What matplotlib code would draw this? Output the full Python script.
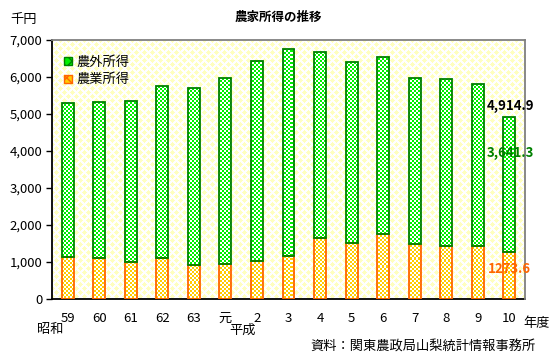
import numpy as np
import matplotlib
matplotlib.use("Agg")
import matplotlib.pyplot as plt
from matplotlib.colors import to_rgb
from matplotlib.patches import Patch

plt.rcParams['font.family'] = ['Noto Sans CJK JP', 'DejaVu Sans']

# --- data (千円) ---
years = ['59', '60', '61', '62', '63', '元', '2', '3', '4', '5', '6', '7', '8', '9', '10']
farm = [1127, 1108, 1000, 1108, 919, 955, 1027, 1162, 1649, 1514, 1757, 1495, 1441, 1441, 1273.6]
nonfarm = [4162, 4208, 4343, 4640, 4775, 5009, 5397, 5587, 5018, 4883, 4775, 4469, 4496, 4361, 3641.3]
yticks = [0, 1000, 2000, 3000, 4000, 5000, 6000, 7000]

W, H = 556, 360
AX_L, AX_B, AX_W, AX_H = 52, 40, 473, 259   # axes box in pixels (top-left origin)
fig = plt.figure(figsize=(W / 100, H / 100), dpi=100)
ax = fig.add_axes([AX_L / W, (H - AX_B - AX_H) / H, AX_W / W, AX_H / H])

x = np.arange(len(years))
xlim = (-0.5, len(years) - 0.5)
ylim = (0, 7000)
extent = (xlim[0], xlim[1], ylim[0], ylim[1])

green_fill, green_edge = '#00f000', '#008000'
orange_fill, orange_edge = '#ffcc00', '#ff6600'

# pixel textures (2px checker for bars, pale diamonds for background)
yy, xx = np.mgrid[0:AX_H, 0:AX_W]
checker = ((xx // 2 + yy // 2) % 2 == 0)[..., None]
white = np.ones(3)


def tex(col):
    return np.where(checker, np.array(to_rgb(col)), white)


u, v = (xx + yy) % 8, (xx - yy) % 8
du, dv = np.minimum(u, 8 - u), np.minimum(v, 8 - v)
diam = (np.maximum(du, dv) <= 2)[..., None]
bg_img = np.where(diam, np.array(to_rgb('#ffffbf')), white)
ax.imshow(bg_img, extent=extent, aspect='auto', interpolation='nearest', zorder=0)

b1 = ax.bar(x, farm, 0.38, color='none', edgecolor=orange_edge, lw=1.3, zorder=3)
b2 = ax.bar(x, nonfarm, 0.38, bottom=farm, color='none', edgecolor=green_edge, lw=1.3, zorder=3)
for bars, col in ((b1, orange_fill), (b2, green_fill)):
    img_arr = tex(col)
    for b in bars:
        im = ax.imshow(img_arr, extent=extent, aspect='auto', interpolation='nearest', zorder=2)
        im.set_clip_path(b)

ax.set_xlim(*xlim)
ax.set_ylim(*ylim)
ax.set_yticks(yticks)
ax.set_yticklabels([f'{v:,}' for v in yticks], fontsize=9.5)
ax.tick_params(axis='y', direction='out', length=4, width=1, pad=3)
ax.set_xticks(x)
ax.set_xticklabels(years, fontsize=9.5)
ax.tick_params(axis='x', length=0, pad=9)

for s in ['left', 'bottom']:
    ax.spines[s].set_color('black')
    ax.spines[s].set_linewidth(1.3)
for s in ['top', 'right']:
    ax.spines[s].set_color('#808080')
    ax.spines[s].set_linewidth(1.3)
    ax.spines[s].set_zorder(4)

# legend
h_non = Patch(facecolor=green_fill, edgecolor=green_edge, hatch='xxx', lw=1)
h_farm = Patch(facecolor=orange_fill, edgecolor=orange_edge, hatch='xxx', lw=1)
ax.legend([h_non, h_farm], ['農外所得', '農業所得'], loc='upper left',
          bbox_to_anchor=(0.0, 0.985), frameon=False, fontsize=9.5,
          handlelength=0.6, handleheight=0.6, handletextpad=0.35, labelspacing=0.35)

# annotations on last bar
total_last = farm[-1] + nonfarm[-1]
ax.text(14.05, total_last + 300, f'{total_last:,.1f}', ha='center', va='center',
        fontsize=9.5, fontweight='bold', color='black', zorder=5)
ax.text(14.05, 3950, f'{nonfarm[-1]:,.1f}', ha='center', va='center',
        fontsize=9.5, fontweight='bold', color='#008000', zorder=5)
ax.text(14.0, 820, f'{farm[-1]}', ha='center', va='center',
        fontsize=9.5, fontweight='bold', color='#ff6600', zorder=5)

# texts outside axes
fig.text(278 / W, 1 - 17 / H, '農家所得の推移', ha='center', va='center', fontsize=9, fontweight='bold')
fig.text(24 / W, 1 - 19 / H, '千円', ha='center', va='center', fontsize=9.5)
fig.text(50 / W, 1 - 329 / H, '昭和', ha='center', va='center', fontsize=9.5)
fig.text(243 / W, 1 - 330 / H, '平成', ha='center', va='center', fontsize=9.5)
fig.text(537 / W, 1 - 324 / H, '年度', ha='center', va='center', fontsize=9.5)
fig.text(423 / W, 1 - 347 / H, '資料：関東農政局山梨統計情報事務所', ha='center', va='center', fontsize=9.5)

fig.savefig('out.png', dpi=100)
